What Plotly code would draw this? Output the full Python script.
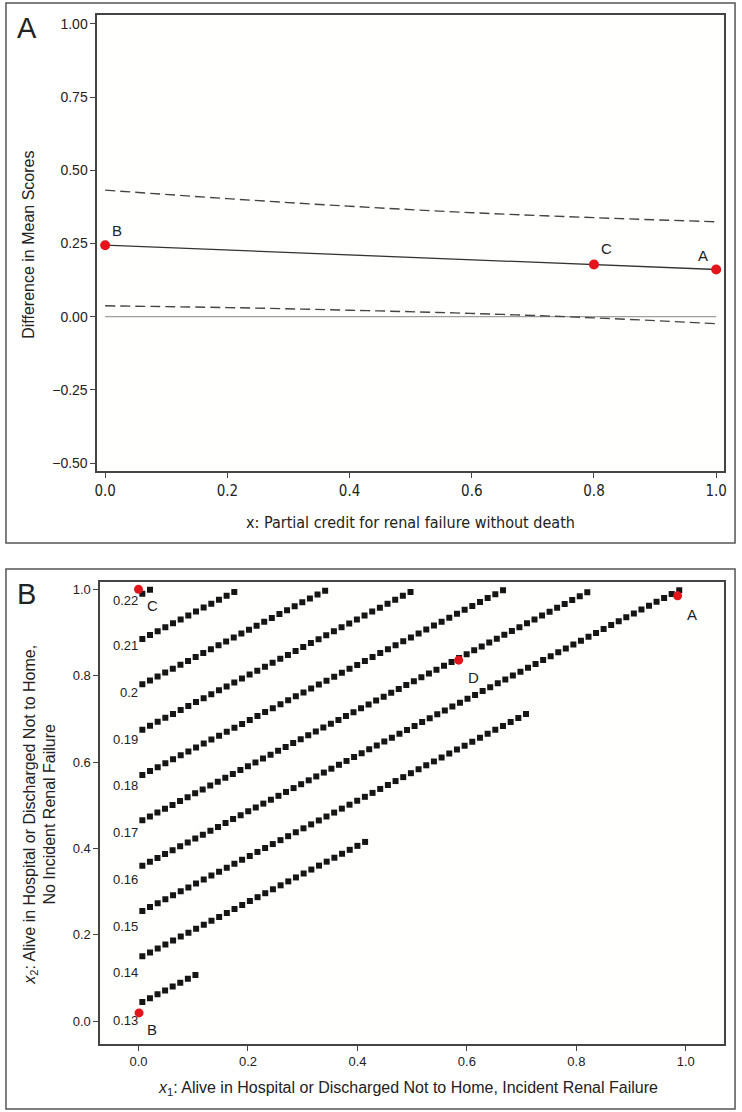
import numpy as np
import plotly.graph_objects as go

# ---- Panel A data: difference in mean scores vs partial credit x ----
credit_x = [0.0, 0.2, 0.4, 0.6, 0.8, 1.0]
mean_diff = [0.244, 0.227, 0.211, 0.194, 0.178, 0.161]
upper_ci = [0.432, 0.403, 0.377, 0.355, 0.338, 0.324]
lower_ci = [0.037, 0.031, 0.022, 0.011, -0.004, -0.024]

pts_a_label = ["B", "C", "A"]
pts_a_x = [0.0, 0.8, 1.0]
pts_a_y = [0.244, 0.178, 0.161]

# ---- Panel B data: iso-difference lines over (x1, x2) ----
levels = ["0.13", "0.14", "0.15", "0.16", "0.17", "0.18", "0.19", "0.2", "0.21", "0.22"]
x1_start = [0.007, 0.007, 0.007, 0.007, 0.007, 0.007, 0.007, 0.007, 0.007, 0.007]
x2_start = [0.044, 0.150, 0.255, 0.360, 0.465, 0.570, 0.675, 0.780, 0.885, 0.990]
x1_end = [0.104, 0.414, 0.708, 0.988, 0.820, 0.666, 0.497, 0.341, 0.175, 0.021]
x2_end = [0.107, 0.415, 0.711, 0.998, 0.993, 0.998, 0.994, 0.997, 0.994, 0.999]
n_squares = [8, 30, 51, 72, 60, 48, 36, 25, 13, 2]

pts_b_label = ["C", "B", "D", "A"]
pts_b_x = [0.0, 0.001, 0.585, 0.985]
pts_b_y = [1.0, 0.019, 0.836, 0.985]

W, H = 742, 1112
RED = "#e3141b"
INK = "#222222"
FONT = "Liberation Sans, Arial, sans-serif"
COND = "DejaVu Sans Condensed, Liberation Sans, sans-serif"


def px(x):
    return x / W


def py(y):
    return 1 - y / H


fig = go.Figure()

# Panel A
fig.add_trace(go.Scatter(x=[0, 1], y=[0, 0], mode="lines",
                         line=dict(color="#a0a0a0", width=1.2),
                         xaxis="x", yaxis="y", hoverinfo="skip"))
for band in (upper_ci, lower_ci):
    fig.add_trace(go.Scatter(x=credit_x, y=band, mode="lines",
                             line=dict(color="#444444", width=1.4, dash="10px,5px", shape="spline"),
                             xaxis="x", yaxis="y"))
fig.add_trace(go.Scatter(x=credit_x, y=mean_diff, mode="lines",
                         line=dict(color="#333333", width=1.3),
                         xaxis="x", yaxis="y"))
fig.add_trace(go.Scatter(x=pts_a_x, y=pts_a_y, mode="markers",
                         marker=dict(color=RED, size=10),
                         xaxis="x", yaxis="y"))

# Panel B
for i in range(len(levels)):
    xs = np.linspace(x1_start[i], x1_end[i], n_squares[i])
    ys = np.linspace(x2_start[i], x2_end[i], n_squares[i])
    fig.add_trace(go.Scatter(x=xs, y=ys, mode="markers", name=levels[i],
                             marker=dict(symbol="square", color="#151515", size=6),
                             xaxis="x2", yaxis="y2"))
fig.add_trace(go.Scatter(x=pts_b_x, y=pts_b_y, mode="markers",
                         marker=dict(color=RED, size=9),
                         xaxis="x2", yaxis="y2", cliponaxis=False))

axis_common = dict(showgrid=False, zeroline=False, showline=True, linecolor="#444444",
                   linewidth=1.5, mirror=True, ticks="outside", ticklen=5,
                   tickcolor="#444444", tickwidth=1.2)

annotations = []

# panel A labels
offs_a = [(5, 4, "left"), (5, 6, "left"), (-6, 4, "right")]
for lab, x, y, (dx, dy, anc) in zip(pts_a_label, pts_a_x, pts_a_y, offs_a):
    annotations.append(dict(x=x, y=y, xref="x", yref="y", text=lab, showarrow=False,
                            xanchor=anc, yanchor="bottom", xshift=dx, yshift=dy,
                            font=dict(size=15, color=INK, family=FONT)))
# panel B labels
offs_b = [(6, -6), (6, -6), (7, -7), (7, -8)]
for lab, x, y, (dx, dy) in zip(pts_b_label, pts_b_x, pts_b_y, offs_b):
    annotations.append(dict(x=x, y=y, xref="x2", yref="y2", text=lab, showarrow=False,
                            xanchor="left", yanchor="top", xshift=dx, yshift=dy,
                            font=dict(size=15, color=INK, family=FONT)))

# level labels next to start of each line
label_y = [0.002, 0.112, 0.220, 0.328, 0.436, 0.545, 0.653, 0.762, 0.869, 0.975]
for lab, ly in zip(levels, label_y):
    annotations.append(dict(x=0.0, y=ly, xref="x2", yref="y2", text=lab, showarrow=False,
                            xanchor="right", yanchor="middle", xshift=1,
                            font=dict(size=13, color=INK, family=FONT)))

# panel letters
annotations.append(dict(x=px(12), y=py(10), xref="paper", yref="paper", text="A",
                        showarrow=False, xanchor="left", yanchor="top",
                        font=dict(size=29, color=INK, family=FONT)))
annotations.append(dict(x=px(12), y=py(576), xref="paper", yref="paper", text="B",
                        showarrow=False, xanchor="left", yanchor="top",
                        font=dict(size=29, color=INK, family=FONT)))

# axis titles
annotations.append(dict(x=px(26), y=py(245), xref="paper", yref="paper",
                        text="Difference in Mean Scores", textangle=-90, showarrow=False,
                        xanchor="center", yanchor="middle",
                        font=dict(size=16, color=INK, family=FONT)))
annotations.append(dict(x=px(411), y=py(522), xref="paper", yref="paper",
                        text="x: Partial credit for renal failure without death", showarrow=False,
                        xanchor="center", yanchor="middle",
                        font=dict(size=16, color=INK, family=COND)))
annotations.append(dict(x=px(37), y=py(815), xref="paper", yref="paper",
                        text="<i>x</i><sub>2</sub>: Alive in Hospital or Discharged Not to Home,<br>No Incident Renal Failure",
                        textangle=-90, showarrow=False, xanchor="center", yanchor="middle",
                        font=dict(size=16, color=INK, family=FONT)))
annotations.append(dict(x=px(408), y=py(1088), xref="paper", yref="paper",
                        text="<i>x</i><sub>1</sub>: Alive in Hospital or Discharged Not to Home, Incident Renal Failure",
                        showarrow=False, xanchor="center", yanchor="middle",
                        font=dict(size=16, color=INK, family=FONT)))

shapes = [
    dict(type="rect", xref="paper", yref="paper", x0=px(3), x1=px(738), y0=py(543), y1=py(3),
         line=dict(color="#555555", width=1.5)),
    dict(type="rect", xref="paper", yref="paper", x0=px(3), x1=px(738), y0=py(1109), y1=py(569),
         line=dict(color="#555555", width=1.5)),
]

fig.update_layout(
    width=W, height=H,
    margin=dict(l=0, r=0, t=0, b=0),
    paper_bgcolor="white", plot_bgcolor="#fffffd",
    showlegend=False,
    font=dict(family=FONT, color=INK),
    xaxis=dict(domain=[px(95), px(727)], anchor="y", range=[-0.013, 1.013],
               tickvals=[0, 0.2, 0.4, 0.6, 0.8, 1.0], tickformat=".1f",
               tickfont=dict(size=15, family=COND), **axis_common),
    yaxis=dict(domain=[py(471), py(15)], anchor="x", range=[-0.527, 1.03],
               tickvals=[-0.5, -0.25, 0, 0.25, 0.5, 0.75, 1.0], tickformat=".2f",
               tickfont=dict(size=14), **axis_common),
    xaxis2=dict(domain=[px(98), px(727)], anchor="y2", range=[-0.070, 1.070],
                tickvals=[0, 0.2, 0.4, 0.6, 0.8, 1.0], tickformat=".1f",
                tickfont=dict(size=13), **axis_common),
    yaxis2=dict(domain=[py(1044), py(582)], anchor="x2", range=[-0.053, 1.017],
                tickvals=[0, 0.2, 0.4, 0.6, 0.8, 1.0], tickformat=".1f",
                tickfont=dict(size=13), **axis_common),
    annotations=annotations,
    shapes=shapes,
)

fig.write_html("out.html", config={"displayModeBar": False},
               post_script="document.body.style.margin='0';")
